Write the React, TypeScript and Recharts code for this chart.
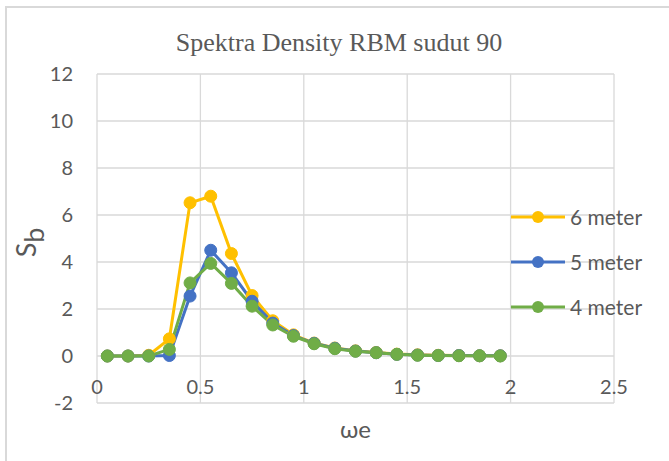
import { LineChart, Line, XAxis, YAxis, CartesianGrid } from "recharts";

// ωe values (x) and spectral density for each wave height
const omega = [
  0.05, 0.15, 0.25, 0.35, 0.45, 0.55, 0.65, 0.75, 0.85, 0.95,
  1.05, 1.15, 1.25, 1.35, 1.45, 1.55, 1.65, 1.75, 1.85, 1.95,
];
const s6 = [0, 0, 0.03, 0.73, 6.52, 6.8, 4.36, 2.57, 1.5, 0.9, 0.55, 0.34, 0.22, 0.15, 0.08, 0.05, 0.03, 0.02, 0.01, 0.01];
const s5 = [0, 0, 0, 0.02, 2.55, 4.5, 3.54, 2.33, 1.4, 0.87, 0.54, 0.33, 0.21, 0.14, 0.07, 0.04, 0.02, 0.02, 0.01, 0.01];
const s4 = [0, 0, 0, 0.28, 3.11, 3.94, 3.09, 2.12, 1.32, 0.84, 0.52, 0.31, 0.2, 0.14, 0.07, 0.03, 0.02, 0.01, 0.01, 0];

const xTicks = [0, 0.5, 1, 1.5, 2, 2.5];
const yTicks = [-2, 0, 2, 4, 6, 8, 10, 12];

const series = [
  { key: "m6", name: "6 meter", color: "#FFC000" },
  { key: "m5", name: "5 meter", color: "#4472C4" },
  { key: "m4", name: "4 meter", color: "#70AD47" },
];

const data = omega.map((w, i) => ({ w, m6: s6[i], m5: s5[i], m4: s4[i] }));

const FONT = "Lato, 'Open Sans', sans-serif";
const GREY = "#595959";

const XTick = (props: any) => {
  const { x, y, payload } = props;
  return (
    <text x={x} y={y} dy={-9} textAnchor="middle" fill={GREY} fontSize={20} fontFamily={FONT}>
      {payload.value}
    </text>
  );
};

export default function App() {
  return (
    <div
      style={{
        position: "absolute",
        left: 0,
        top: 0,
        width: 669,
        height: 461,
        overflow: "hidden",
        background: "#fff",
      }}
    >
      <div
        style={{
          position: "absolute",
          left: 5,
          top: 6,
          width: 700,
          height: 500,
          borderTop: "2px solid #d9d9d9",
          borderLeft: "2px solid #d9d9d9",
        }}
      />
      <LineChart
        width={669}
        height={461}
        data={data}
        margin={{ top: 74, right: 55, left: 0, bottom: 0 }}
        style={{ position: "absolute", left: 0, top: 0 }}
      >
        <CartesianGrid stroke="#d9d9d9" strokeWidth={1.3} />
        <XAxis
          dataKey="w"
          type="number"
          domain={[0, 2.5]}
          ticks={xTicks}
          height={58}
          axisLine={false}
          tickLine={false}
          tickSize={0}
          tickMargin={0}
          tick={<XTick />}
          label={{
            content: (p: any) => {
              const vb = p.viewBox;
              return (
                <text
                  x={vb.x + vb.width / 2}
                  y={vb.y + 35}
                  textAnchor="middle"
                  fill={GREY}
                  fontSize={24}
                  fontFamily={FONT}
                >
                  ωe
                </text>
              );
            },
          }}
        />
        <YAxis
          type="number"
          domain={[-2, 12]}
          ticks={yTicks}
          width={97}
          axisLine={false}
          tickLine={false}
          tickSize={0}
          tickMargin={24}
          tick={{ fill: GREY, fontSize: 20, fontFamily: FONT }}
          label={{
            content: (p: any) => {
              const vb = p.viewBox;
              const cy = vb.y + vb.height / 2 + 4;
              return (
                <text
                  transform={`translate(36, ${cy}) rotate(-90)`}
                  textAnchor="middle"
                  fill={GREY}
                  fontSize={27}
                  fontFamily={FONT}
                >
                  S<tspan dy={8}>b</tspan>
                </text>
              );
            },
          }}
        />
        {series.map((s) => (
          <Line
            key={s.key}
            type="linear"
            dataKey={s.key}
            name={s.name}
            stroke={s.color}
            strokeWidth={3}
            dot={{ r: 6, fill: s.color, stroke: s.color, strokeWidth: 1 }}
            activeDot={false}
            isAnimationActive={false}
          />
        ))}
      </LineChart>
      <svg
        width={669}
        height={461}
        style={{ position: "absolute", left: 0, top: 0, pointerEvents: "none" }}
      >
        <text
          x={339}
          y={51}
          textAnchor="middle"
          fill={GREY}
          fontSize={26}
          fontFamily="'Liberation Serif', 'Times New Roman', serif"
        >
          Spektra Density RBM sudut 90
        </text>
        {series.map((s, i) => {
          const cy = 217 + i * 45;
          return (
            <g key={s.key}>
              <line x1={511} x2={565} y1={cy} y2={cy} stroke={s.color} strokeWidth={3} />
              <circle cx={538} cy={cy} r={6} fill={s.color} />
              <text x={570} y={cy} dy="0.36em" fill={GREY} fontSize={21} fontFamily={FONT}>
                {s.name}
              </text>
            </g>
          );
        })}
      </svg>
    </div>
  );
}
